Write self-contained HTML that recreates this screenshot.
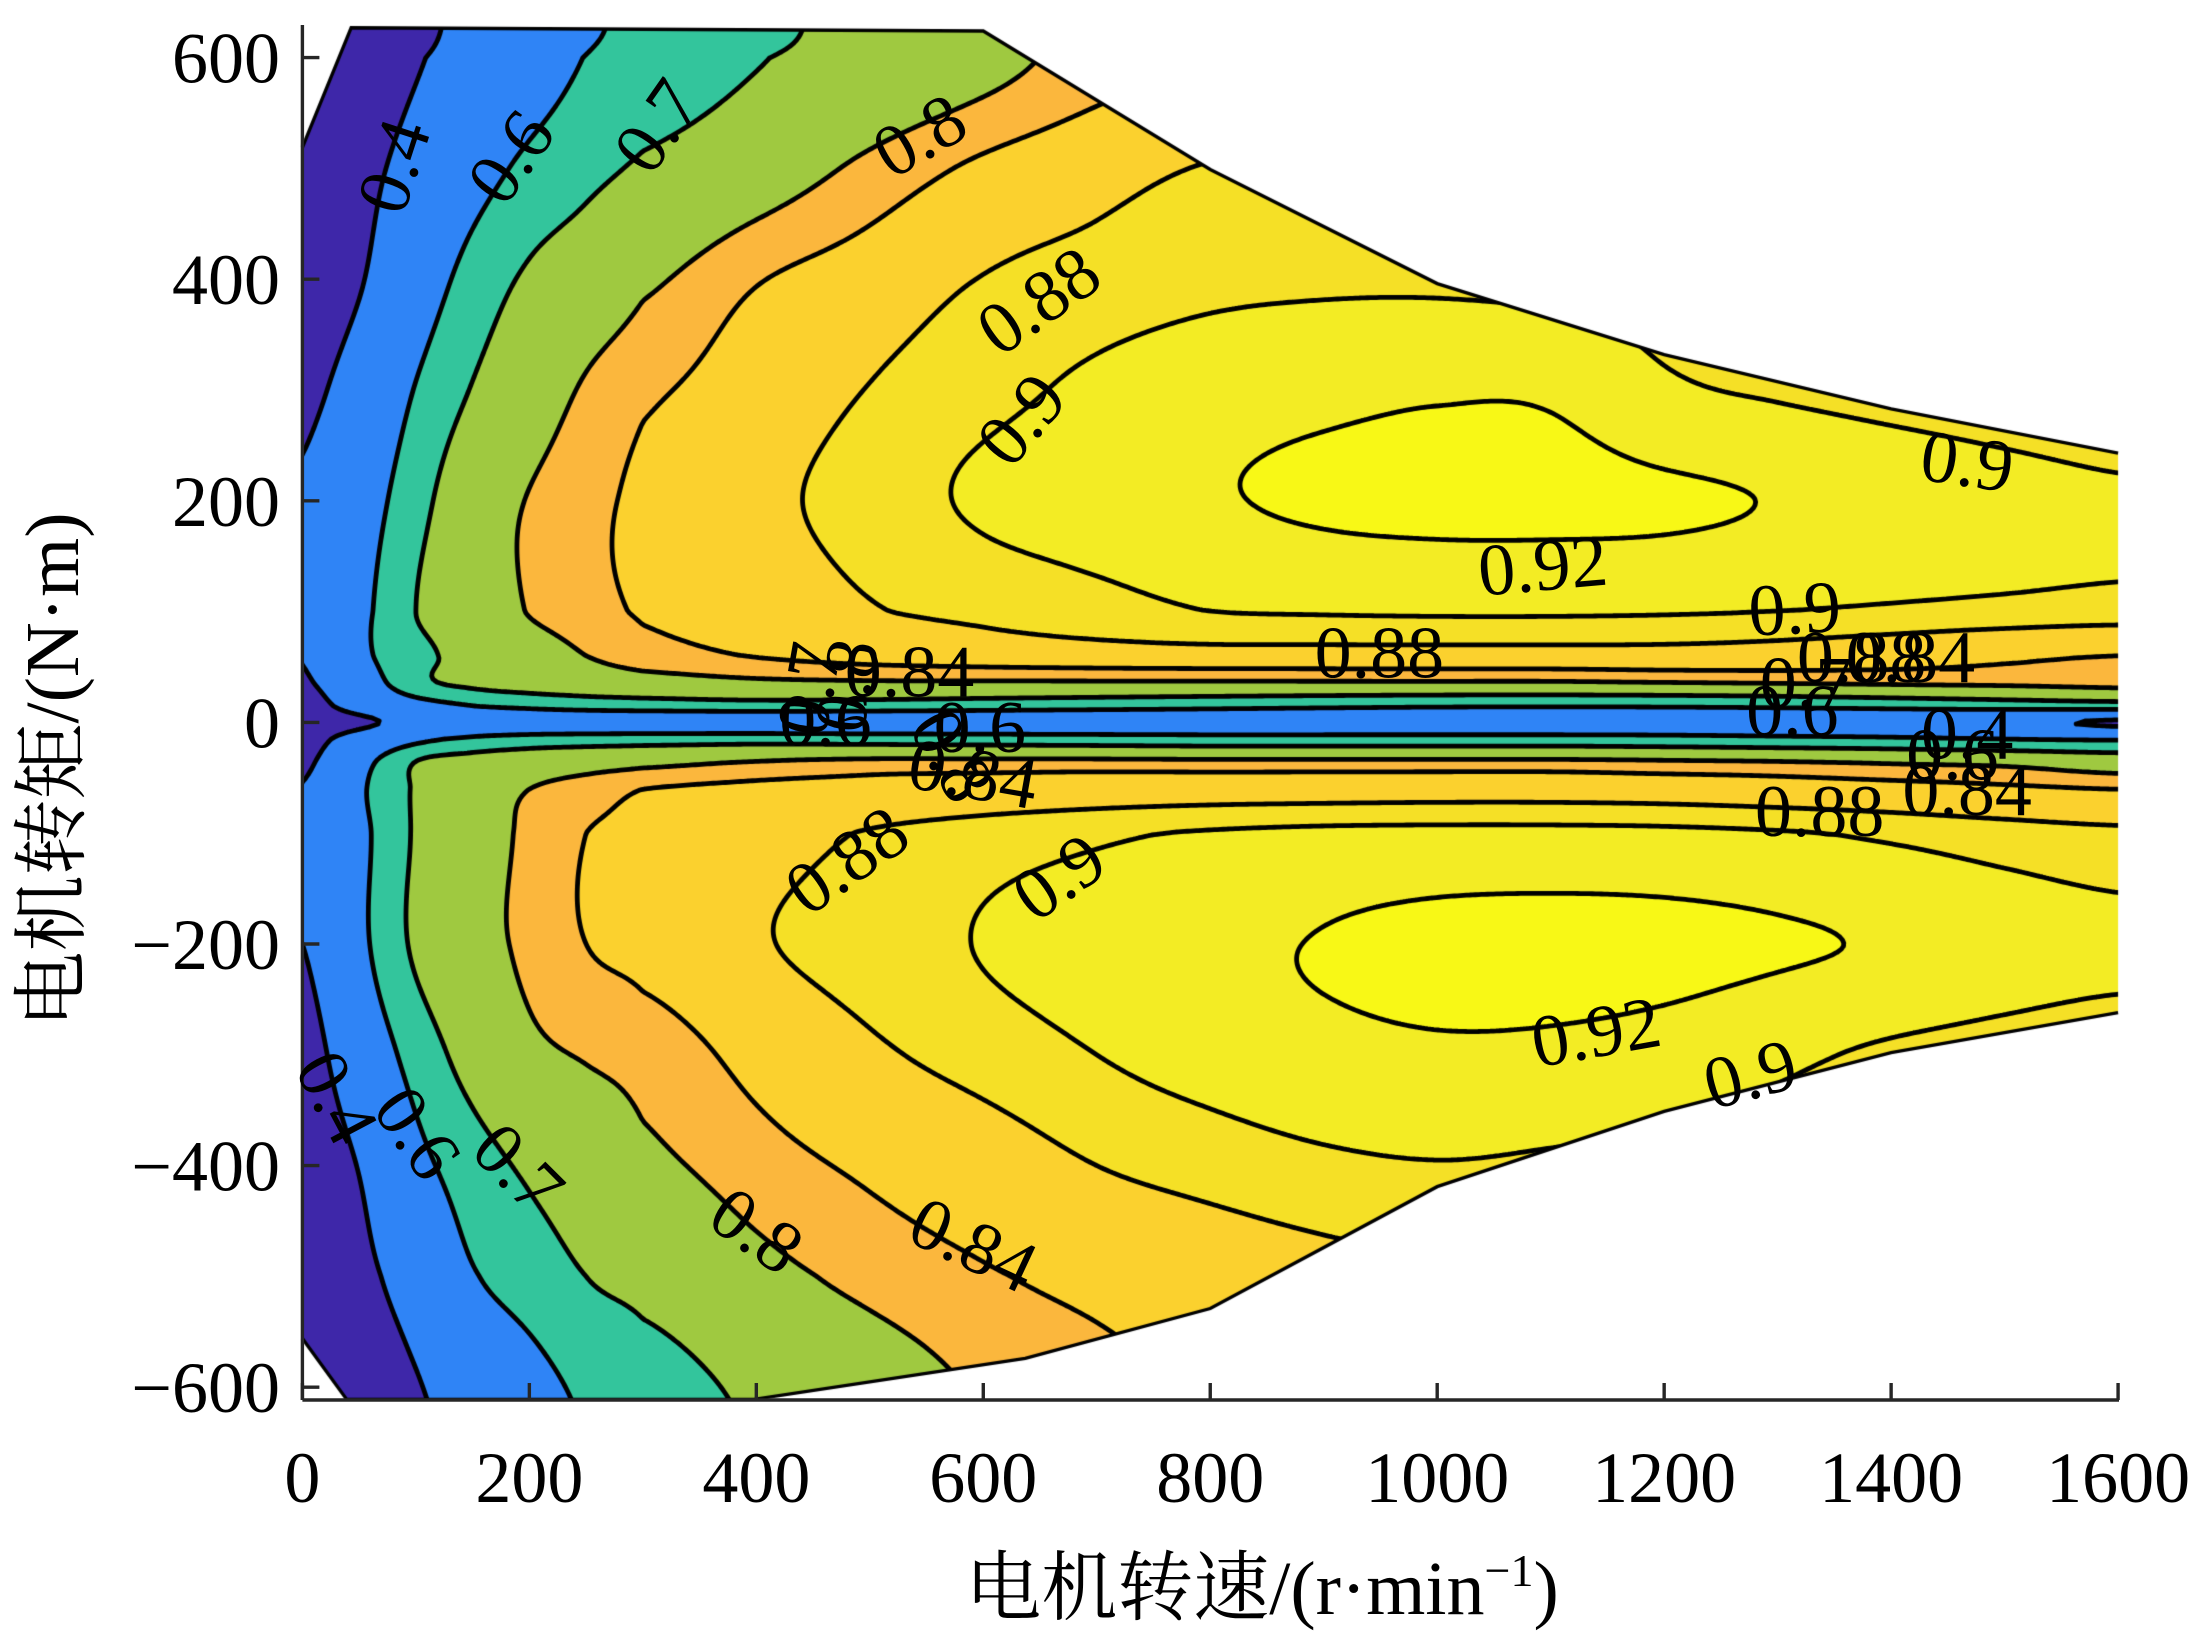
<!DOCTYPE html>
<html>
<head>
<meta charset="utf-8">
<style>
  html,body{margin:0;padding:0;background:#fff;}
  #wrap{position:relative;width:2195px;height:1639px;overflow:hidden;background:#fff;}
  #plot{position:absolute;left:0;top:0;}
  #ov{position:absolute;left:0;top:0;}
  text{font-family:"Liberation Serif","Noto Serif CJK SC",serif;fill:#000;}
</style>
</head>
<body>
<div id="wrap">
  <canvas id="plot" width="2195" height="1639"></canvas>
  <svg id="ov" width="2195" height="1639">
    <g id="axes"></g>
    <g id="labels"></g>
    <text x="1262" y="1614" text-anchor="middle" font-size="76">电机转速/(r·min<tspan dy="-28" font-size="46">−1</tspan><tspan dy="28">)</tspan></text>
    <text transform="translate(78,770) rotate(-90)" text-anchor="middle" font-size="76">电机转矩/(N·m)</text>
  </svg>
</div>
<script>
// ---------- data ----------
const speedGrid = [0,50,100,150,200,250,300,400,500,600,700,800,900,1000,1100,1200,1300,1400,1500,1600];
const torqueGrid = [640,600,500,400,300,200,100,60,35,15,0,-15,-35,-60,-100,-200,-300,-400,-500,-620];
const effGrid = [
 [.26,.31,.36,.444,.514,.583,.621,.678,.725,.767,.808,.83,.845,.855,.858,.86,.86,.86,.86,.86],
 [.28,.334,.389,.457,.532,.603,.633,.694,.737,.778,.82,.838,.85,.86,.865,.87,.87,.87,.87,.87],
 [.30,.364,.445,.547,.625,.676,.713,.763,.812,.848,.868,.882,.887,.889,.889,.889,.889,.888,.888,.888],
 [.33,.39,.522,.641,.714,.751,.789,.837,.86,.881,.889,.895,.897,.897,.895,.893,.89,.888,.886,.885],
 [.37,.46,.606,.705,.76,.807,.833,.859,.881,.894,.904,.911,.915,.918,.917,.903,.898,.894,.891,.889],
 [.42,.53,.667,.76,.803,.83,.848,.872,.89,.903,.91,.918,.923,.925,.925,.923,.919,.912,.906,.902],
 [.45,.567,.70,.754,.803,.828,.844,.86,.878,.886,.893,.90,.902,.903,.903,.902,.90,.898,.896,.894],
 [.41,.57,.67,.735,.765,.80,.823,.842,.855,.862,.866,.868,.868,.868,.868,.868,.865,.858,.848,.84],
 [.38,.52,.67,.72,.745,.76,.77,.785,.79,.79,.79,.79,.79,.79,.79,.795,.80,.805,.81,.82],
 [.34,.46,.55,.60,.625,.645,.655,.665,.66,.65,.64,.63,.62,.612,.61,.612,.62,.635,.65,.66],
 [.30,.37,.45,.49,.50,.50,.50,.50,.50,.50,.50,.50,.50,.50,.50,.50,.49,.47,.44,.38],
 [.34,.47,.57,.62,.645,.655,.66,.665,.66,.655,.65,.645,.645,.645,.645,.64,.63,.62,.60,.59],
 [.37,.55,.70,.74,.76,.77,.78,.80,.812,.812,.812,.81,.81,.81,.81,.805,.80,.79,.78,.755],
 [.41,.58,.71,.77,.80,.82,.84,.85,.853,.858,.862,.864,.865,.866,.866,.864,.86,.855,.848,.84],
 [.45,.57,.71,.77,.81,.84,.848,.867,.882,.891,.897,.902,.905,.906,.906,.905,.902,.897,.891,.886],
 [.40,.57,.716,.776,.811,.84,.852,.877,.89,.901,.908,.915,.921,.925,.926,.925,.922,.918,.91,.905],
 [.34,.50,.642,.736,.785,.804,.818,.852,.875,.889,.90,.908,.914,.917,.916,.912,.904,.897,.893,.89],
 [.30,.406,.561,.657,.715,.75,.785,.823,.847,.864,.88,.889,.896,.899,.897,.894,.89,.887,.885,.884],
 [.28,.362,.467,.59,.648,.70,.727,.78,.814,.836,.85,.862,.871,.877,.88,.88,.88,.88,.88,.88],
 [.25,.30,.38,.462,.543,.611,.646,.712,.758,.802,.825,.843,.855,.862,.865,.865,.865,.865,.865,.865]
];
const levels = [0.4,0.6,0.7,0.8,0.84,0.88,0.9,0.92];
const levelColors = ['#3e27a9','#2f84f6','#33c59c','#9fc940','#fbb73d','#fbd12e','#f5e026','#f3ec24','#f8f816'];
const envUpperSpeed = [0,43,600,800,1000,1200,1400,1600];
const envUpperTorque = [519,627,624,499,396,332,283,243];
const envLowerSpeed = [1600,1400,1200,1000,800,637,398,39,0];
const envLowerTorque = [-262,-298,-351,-419,-529,-574,-611,-611,-556];
const xTicks = [0,200,400,600,800,1000,1200,1400,1600];
const yTicks = [600,400,200,0,-200,-400,-600];
const labelText = ['0.4','0.6','0.7','0.8','0.88','0.9','0.92','0.9','0.9','0.88','0.84','0.8','0.7','0.6','0.6','0.8','0.84','0.6','0.7','0.88','0.84','0.4','0.6','0.84','0.88','0.88','0.9','0.92','0.9','0.4','0.6','0.7','0.8','0.84'];
const labelSpeed = [81,184,313,544,649,634,1093,1467,1315,949,535,480,447,461,597,572,591,1313,1325,1374,1417,1467,1454,1467,1337,480,667,1140,1276,30,101,190,400,591];
const labelTorque = [502,510,538,529,380,273,141,235,102,62,45,33,30,1,-5,-30,-47,10,35,58,58,-11,-30,-62,-81,-125,-140,-280,-318,-339,-371,-403,-459,-472];
const labelAngle = [-72,-55,-55,-30,-35,-50,-5,8,-3,0,0,-80,-80,0,0,60,10,0,0,0,0,0,0,0,0,-35,-35,-10,-15,62,55,45,35,25];

// ---------- scales ----------
const X0 = 302.4, KX = 1.1348, Y0 = 722.4, KY = 1.108;
const AX_TOP = 25, AX_BOT = 1400, AX_RIGHT = 2118;
function xs(s){ return X0 + s*KX; }
function ys(t){ return Y0 - t*KY; }
function inv(px,py){ return [(px-X0)/KX, (Y0-py)/KY]; }

function fracIdx(arr, v){
  const n=arr.length, asc = arr[1]>arr[0];
  for(let i=0;i<n-1;i++){
    const a=arr[i], b=arr[i+1];
    if(asc ? (v>=a && v<=b) : (v<=a && v>=b)) return i+(v-a)/(b-a);
  }
  if(asc) return v<arr[0]?0:n-1;
  return v>arr[0]?0:n-1;
}
function cr(p0,p1,p2,p3,t){
  const t2=t*t,t3=t2*t;
  return 0.5*((2*p1)+(-p0+p2)*t+(2*p0-5*p1+4*p2-p3)*t2+(-p0+3*p1-3*p2+p3)*t3);
}
function g(j,i){
  j=Math.max(0,Math.min(torqueGrid.length-1,j));
  i=Math.max(0,Math.min(speedGrid.length-1,i));
  return effGrid[j][i];
}
function field(s,t){
  const u=fracIdx(speedGrid,s), w=fracIdx(torqueGrid,t);
  let i=Math.floor(u), j=Math.floor(w);
  if(i>=speedGrid.length-1) i=speedGrid.length-2;
  if(j>=torqueGrid.length-1) j=torqueGrid.length-2;
  const fx=u-i, fy=w-j;
  const r=[];
  for(let k=-1;k<=2;k++) r.push(cr(g(j+k,i-1),g(j+k,i),g(j+k,i+1),g(j+k,i+2),fx));
  return cr(r[0],r[1],r[2],r[3],fy);
}

function hex(h){ return [parseInt(h.slice(1,3),16),parseInt(h.slice(3,5),16),parseInt(h.slice(5,7),16)]; }
const rgb = levelColors.map(hex);

const cv=document.getElementById('plot');
const ctx=cv.getContext('2d');

function envPath(c){
  c.beginPath();
  for(let k=0;k<envUpperSpeed.length;k++){ const px=xs(envUpperSpeed[k]), py=ys(envUpperTorque[k]); if(k===0) c.moveTo(px,py); else c.lineTo(px,py); }
  for(let k=0;k<envLowerSpeed.length;k++){ c.lineTo(xs(envLowerSpeed[k]), ys(envLowerTorque[k])); }
  c.closePath();
}

// sample grid
const W=Math.ceil(AX_RIGHT-X0)+4, H=AX_BOT-AX_TOP;
const STEP=3;
const nx=Math.ceil(W/STEP)+1, ny=Math.ceil(H/STEP)+1;
const G=new Float32Array(nx*ny);
for(let j=0;j<ny;j++) for(let i=0;i<nx;i++){
  const st=inv(X0+i*STEP, AX_TOP+j*STEP);
  G[j*nx+i]=field(st[0],st[1]);
}
// fill image (bilinear from sample grid)
const off=document.createElement('canvas'); off.width=W; off.height=H;
const octx=off.getContext('2d');
const img=octx.createImageData(W,H);
for(let py=0;py<H;py++){
  const gy=py/STEP, j=Math.min(ny-2,Math.floor(gy)), fy=gy-j;
  for(let px=0;px<W;px++){
    const gx=px/STEP, i=Math.min(nx-2,Math.floor(gx)), fx=gx-i;
    const v=G[j*nx+i]*(1-fx)*(1-fy)+G[j*nx+i+1]*fx*(1-fy)+G[(j+1)*nx+i]*(1-fx)*fy+G[(j+1)*nx+i+1]*fx*fy;
    let k=0; while(k<levels.length && v>=levels[k]) k++;
    const c=rgb[k]; const o=(py*W+px)*4;
    img.data[o]=c[0]; img.data[o+1]=c[1]; img.data[o+2]=c[2]; img.data[o+3]=255;
  }
}
octx.putImageData(img,0,0);

ctx.save();
envPath(ctx);
ctx.clip();
ctx.drawImage(off, X0, AX_TOP);

ctx.strokeStyle='#000'; ctx.lineWidth=4.8; ctx.lineCap='round'; ctx.lineJoin='round';
for(const L of levels){
  ctx.beginPath();
  for(let j=0;j<ny-1;j++) for(let i=0;i<nx-1;i++){
    const a=G[j*nx+i], b=G[j*nx+i+1], c=G[(j+1)*nx+i+1], d=G[(j+1)*nx+i];
    const x=X0+i*STEP, y=AX_TOP+j*STEP;
    const pts=[];
    if((a<L)!==(b<L)) pts.push([x+STEP*(L-a)/(b-a), y]);
    if((b<L)!==(c<L)) pts.push([x+STEP, y+STEP*(L-b)/(c-b)]);
    if((d<L)!==(c<L)) pts.push([x+STEP*(L-d)/(c-d), y+STEP]);
    if((a<L)!==(d<L)) pts.push([x, y+STEP*(L-a)/(d-a)]);
    if(pts.length>=2){ ctx.moveTo(pts[0][0],pts[0][1]); ctx.lineTo(pts[1][0],pts[1][1]); }
    if(pts.length===4){ ctx.moveTo(pts[2][0],pts[2][1]); ctx.lineTo(pts[3][0],pts[3][1]); }
  }
  ctx.stroke();
}
ctx.restore();

ctx.strokeStyle='#000'; ctx.lineWidth=3.4; ctx.lineJoin='miter';
ctx.beginPath();
for(let k=0;k<envUpperSpeed.length;k++){ const px=xs(envUpperSpeed[k]), py=ys(envUpperTorque[k]); if(k===0) ctx.moveTo(px,py); else ctx.lineTo(px,py); }
ctx.stroke();
ctx.beginPath();
for(let k=0;k<envLowerSpeed.length;k++){ const px=xs(envLowerSpeed[k]), py=ys(envLowerTorque[k]); if(k===0) ctx.moveTo(px,py); else ctx.lineTo(px,py); }
ctx.stroke();

// ---------- axes (SVG) ----------
const NS='http://www.w3.org/2000/svg';
const axes=document.getElementById('axes');
function mk(tag, attrs){ const e=document.createElementNS(NS,tag); for(const k in attrs) e.setAttribute(k,attrs[k]); return e; }
let yl=mk('line',{x1:X0,y1:AX_TOP,x2:X0,y2:AX_BOT,stroke:'#262626','stroke-width':3.4});


axes.appendChild(yl);
let xl=mk('line',{x1:X0,y1:AX_BOT,x2:AX_RIGHT+1,y2:AX_BOT,stroke:'#262626','stroke-width':3.4});


axes.appendChild(xl);
for(const t of yTicks){
  const y=ys(t);
  const tk=mk('line',{x1:X0,y1:y,x2:X0+17,y2:y,stroke:'#262626','stroke-width':3.4});
  
  
  axes.appendChild(tk);
  const tx=mk('text',{x:280,y:y+25,'text-anchor':'end','font-size':72});
  tx.textContent = t<0 ? '\u2212'+Math.abs(t) : String(t);
  
  
  axes.appendChild(tx);
}
for(const s of xTicks){
  const x=xs(s);
  const tk=mk('line',{x1:x,y1:AX_BOT,x2:x,y2:AX_BOT-17,stroke:'#262626','stroke-width':3.4});
  
  
  axes.appendChild(tk);
  const tx=mk('text',{x:x,y:1502,'text-anchor':'middle','font-size':72});
  tx.textContent=String(s);
  
  
  axes.appendChild(tx);
}

const lab=document.getElementById('labels');
for(let k=0;k<labelText.length;k++){
  const x=xs(labelSpeed[k]), y=ys(labelTorque[k]);
  const tx=mk('text',{x:x,y:y+24,'text-anchor':'middle','font-size':74,transform:'rotate('+labelAngle[k]+' '+x+' '+y+')'});
  tx.textContent=labelText[k];
  
  
  lab.appendChild(tx);
}
</script>
</body>
</html>
